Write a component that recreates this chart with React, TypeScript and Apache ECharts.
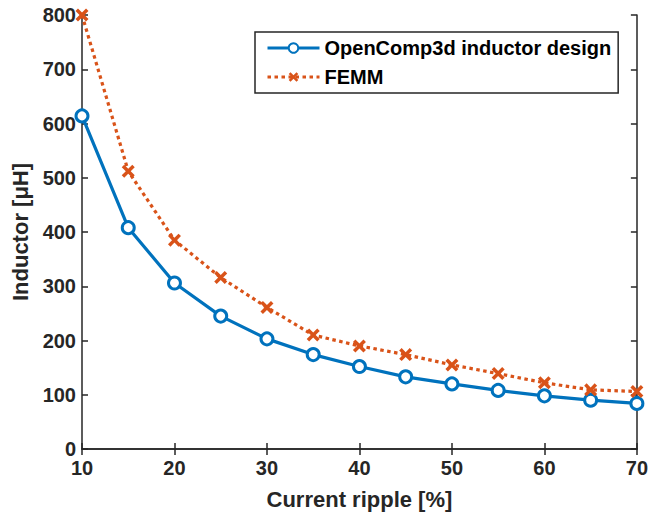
import React, { useEffect, useRef } from "react";
import * as echarts from "echarts";

const rippleCategories = [10, 15, 20, 25, 30, 35, 40, 45, 50, 55, 60, 65, 70];
const openCompValues = [614, 408, 306, 245, 203, 174, 152, 133, 120, 108, 98, 90, 84];
const femmValues = [800, 512, 385, 316, 261, 210, 190, 174, 155, 139, 122, 109, 106];
const seriesNames = ["OpenComp3d inductor design", "FEMM"];

const BLUE = "#0072BD";
const ORANGE = "#D95319";
const AX = "#262626";
const FONT = "'Liberation Sans', Arial, Helvetica, sans-serif";

const a = 1.9;
const X_PATH = `path://M0,${a}L${a},0L5,${5 - a}L${10 - a},0L10,${a}L${5 + a},5L10,${10 - a}L${10 - a},10L5,${5 + a}L${a},10L0,${10 - a}L${5 - a},5Z`;

export default function App() {
  const ref = useRef<HTMLDivElement>(null);
  useEffect(() => {
    if (!ref.current) return;
    const chart = echarts.init(ref.current, undefined, { renderer: "svg" });
    const axisCommon = {
      type: "value" as const,
      axisLine: { show: true, lineStyle: { color: AX, width: 1.5 } },
      axisTick: { show: true, inside: true, length: 6, lineStyle: { color: AX, width: 1.5 } },
      splitLine: { show: false },
    };
    chart.setOption({
      animation: false,
      backgroundColor: "#ffffff",
      grid: { left: 82, right: 13, top: 15, bottom: 67, containLabel: false },
      legend: {
        orient: "vertical",
        left: 255,
        top: 32,
        padding: [6, 7, 6, 11],
        itemWidth: 52,
        itemHeight: 12,
        itemGap: 9,
        borderColor: AX,
        borderWidth: 1.5,
        backgroundColor: "#ffffff",
        lineStyle: { width: 3 },
        textStyle: { fontFamily: FONT, fontSize: 20, fontWeight: "bold", color: "#000", lineHeight: 20, padding: [0, 0, 0, 0] },
        data: seriesNames,
      },
      xAxis: [
        {
          ...axisCommon,
          position: "bottom",
          min: 10,
          max: 70,
          interval: 10,
          name: "Current ripple [%]",
          nameLocation: "middle",
          nameGap: 39,
          nameTextStyle: { fontFamily: FONT, fontSize: 22, fontWeight: "bold", color: AX },
          axisLabel: { fontFamily: FONT, fontSize: 20, fontWeight: "bold", color: AX, margin: 9 },
        },
        {
          ...axisCommon,
          position: "top",
          min: 10,
          max: 70,
          interval: 10,
          axisLabel: { show: false },
        },
      ],
      yAxis: [
        {
          ...axisCommon,
          position: "left",
          min: 0,
          max: 800,
          interval: 100,
          name: "Inductor [μH]",
          nameLocation: "middle",
          nameGap: 48,
          nameTextStyle: { fontFamily: FONT, fontSize: 22, fontWeight: "bold", color: AX },
          axisLabel: { fontFamily: FONT, fontSize: 20, fontWeight: "bold", color: AX, margin: 6 },
        },
        {
          ...axisCommon,
          position: "right",
          min: 0,
          max: 800,
          interval: 100,
          axisLabel: { show: false },
        },
      ],
      series: [
        {
          name: seriesNames[0],
          type: "line",
          xAxisIndex: 0,
          yAxisIndex: 0,
          data: rippleCategories.map((x, i) => [x, openCompValues[i]]),
          symbol: "circle",
          symbolSize: 12,
          clip: false,
          lineStyle: { color: BLUE, width: 3.2 },
          itemStyle: { color: "#ffffff", borderColor: BLUE, borderWidth: 3 },
          z: 3,
        },
        {
          name: seriesNames[1],
          type: "line",
          xAxisIndex: 0,
          yAxisIndex: 0,
          data: rippleCategories.map((x, i) => [x, femmValues[i]]),
          symbol: X_PATH,
          symbolSize: 13,
          clip: false,
          lineStyle: { color: ORANGE, width: 3.2, type: [3.5, 3.5] },
          itemStyle: { color: ORANGE },
          z: 4,
        },
      ],
    });
    return () => chart.dispose();
  }, []);
  return (
    <div
      ref={ref}
      style={{ position: "fixed", left: 0, top: 0, width: 651, height: 516, background: "#fff" }}
    />
  );
}
